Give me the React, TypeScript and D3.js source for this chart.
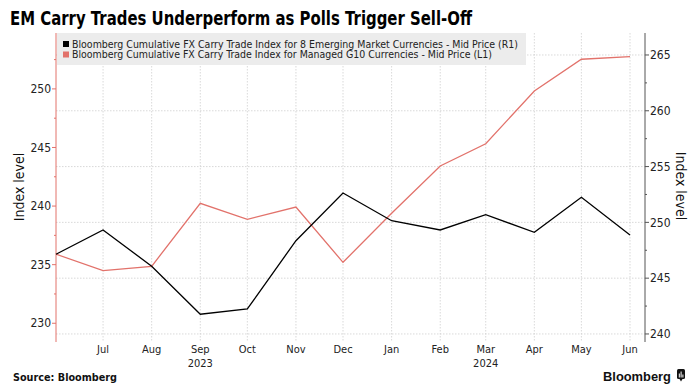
import React from "react";
import * as d3 from "d3";

const months = ["2023-06","2023-07","2023-08","2023-09","2023-10","2023-11","2023-12","2024-01","2024-02","2024-03","2024-04","2024-05","2024-06"];
const emValues = [247.14, 249.32, 246.07, 241.77, 242.24, 248.36, 252.63, 250.15, 249.32, 250.69, 249.11, 252.25, 248.87];
const g10Values = [235.89, 234.49, 234.86, 240.24, 238.87, 239.92, 235.2, 239.39, 243.42, 245.32, 249.82, 252.53, 252.75];
const leftTicks = [230, 235, 240, 245, 250];
const rightTicks = [240, 245, 250, 255, 260, 265];
const monthLabels = ["Jul","Aug","Sep","Oct","Nov","Dec","Jan","Feb","Mar","Apr","May","Jun"];
const yearLabels = [{ month: "2023-09", label: "2023" }, { month: "2024-03", label: "2024" }];
const legendLabels = [
  "Bloomberg Cumulative FX Carry Trade Index for 8 Emerging Market Currencies - Mid Price (R1)",
  "Bloomberg Cumulative FX Carry Trade Index for Managed G10 Currencies - Mid Price (L1)",
];

const W = 693, H = 389;
const TOP = 33, BOTTOM = 342, LEFT = 56, RIGHT = 630, RAXIS = 645;
const RED = "#e2726b";
const FONT = "'DejaVu Sans Condensed', 'DejaVu Sans', sans-serif";

const parse = d3.timeParse("%Y-%m");

export default function App() {
  const dates = months.map((m) => parse(m) as Date);
  const x = d3.scaleTime().domain([dates[0], dates[dates.length - 1]]).range([LEFT, RIGHT]);
  const yL = d3.scaleLinear().domain([228.4, 254.77]).range([BOTTOM, TOP]);
  const yR = d3.scaleLinear().domain([239.28, 266.97]).range([BOTTOM, TOP]);

  const emLine = d3.line<number>().x((_, i) => x(dates[i])).y((d) => yR(d))(emValues) || "";
  const g10Line = d3.line<number>().x((_, i) => x(dates[i])).y((d) => yL(d))(g10Values) || "";

  const leftMinor = d3.range(227.5, 255, 2.5).filter((v) => !leftTicks.includes(v) && yL(v) >= TOP && yL(v) <= BOTTOM);
  const rightMinor = d3.range(237.5, 268, 2.5).filter((v) => !rightTicks.includes(v) && yR(v) >= TOP && yR(v) <= BOTTOM);

  return (
    <svg width={W} height={H} style={{ display: "block", position: "absolute", left: 0, top: 0, background: "#fff" }}>
      <rect x={0} y={0} width={W} height={H} fill="#fff" />
      <text x={10} y={25} fontFamily="'DejaVu Sans', sans-serif" fontWeight="bold" fontSize={20} textLength={462} lengthAdjust="spacingAndGlyphs" fill="#000">
        EM Carry Trades Underperform as Polls Trigger Sell-Off
      </text>

      {/* grid */}
      {dates.slice(1).map((d, i) => (
        <line key={"vg" + i} x1={x(d)} x2={x(d)} y1={TOP} y2={BOTTOM} stroke="#cfcfcf" strokeWidth={0.8} strokeDasharray="1.5,1.5" />
      ))}
      {rightTicks.map((t) => (
        <line key={"hg" + t} x1={LEFT} x2={RAXIS} y1={yR(t)} y2={yR(t)} stroke="#cfcfcf" strokeWidth={0.8} strokeDasharray="1.5,1.5" />
      ))}

      {/* legend */}
      <rect x={57} y={33} width={469} height={32} fill="#ececec" />
      <rect x={63} y={41} width={6} height={6} fill="#000" />
      <rect x={63} y={51.5} width={6} height={6} fill={RED} />
      <text x={72} y={47.5} fontFamily={FONT} fontSize={10.5} fill="#222" textLength={446} lengthAdjust="spacingAndGlyphs">{legendLabels[0]}</text>
      <text x={72} y={58} fontFamily={FONT} fontSize={10.5} fill="#222" textLength={420} lengthAdjust="spacingAndGlyphs">{legendLabels[1]}</text>

      {/* left axis */}
      <line x1={LEFT} x2={LEFT} y1={TOP} y2={BOTTOM} stroke={RED} strokeWidth={1} />
      {leftTicks.map((t) => (
        <g key={"lt" + t}>
          <line x1={LEFT - 4} x2={LEFT} y1={yL(t)} y2={yL(t)} stroke={RED} strokeWidth={1} />
          <text x={LEFT - 5} y={yL(t)} dy="0.35em" textAnchor="end" fontFamily={FONT} fontSize={12} fill="#222">{t}</text>
        </g>
      ))}
      {leftMinor.map((t) => (
        <line key={"lm" + t} x1={LEFT - 2} x2={LEFT} y1={yL(t)} y2={yL(t)} stroke={RED} strokeWidth={1} />
      ))}
      <text transform={`translate(24,187) rotate(-90)`} textAnchor="middle" fontFamily={FONT} fontSize={14} fill="#111">Index level</text>

      {/* right axis */}
      <line x1={RAXIS} x2={RAXIS} y1={TOP} y2={BOTTOM} stroke="#555" strokeWidth={1} />
      {rightTicks.map((t) => (
        <g key={"rt" + t}>
          <line x1={RAXIS} x2={RAXIS + 4} y1={yR(t)} y2={yR(t)} stroke="#555" strokeWidth={1} />
          <text x={RAXIS + 5} y={yR(t)} dy="0.35em" textAnchor="start" fontFamily={FONT} fontSize={12} fill="#222">{t}</text>
        </g>
      ))}
      {rightMinor.map((t) => (
        <line key={"rm" + t} x1={RAXIS} x2={RAXIS + 2} y1={yR(t)} y2={yR(t)} stroke="#555" strokeWidth={1} />
      ))}
      <text transform={`translate(676,186) rotate(90)`} textAnchor="middle" fontFamily={FONT} fontSize={14} fill="#111">Index level</text>

      {/* x axis labels */}
      {dates.slice(1).map((d, i) => (
        <text key={"xl" + i} x={x(d)} y={353} textAnchor="middle" fontFamily={FONT} fontSize={11} fill="#222">{monthLabels[i]}</text>
      ))}
      {yearLabels.map((yl) => (
        <text key={yl.label} x={x(parse(yl.month) as Date)} y={367} textAnchor="middle" fontFamily={FONT} fontSize={11} fill="#222">{yl.label}</text>
      ))}

      {/* series */}
      <path d={g10Line} fill="none" stroke={RED} strokeWidth={1.3} />
      <path d={emLine} fill="none" stroke="#000" strokeWidth={1.3} />

      {/* footer */}
      <text x={13} y={381} fontFamily="'DejaVu Sans', sans-serif" fontWeight="bold" fontSize={10} fill="#111" textLength={104} lengthAdjust="spacingAndGlyphs">Source: Bloomberg</text>
      <text x={603} y={381} fontFamily="'Liberation Sans', sans-serif" fontWeight="bold" fontSize={13} fill="#111" textLength={68} lengthAdjust="spacingAndGlyphs">Bloomberg</text>
      <rect x={677} y={369} width={8} height={10} rx={1.5} fill="#111" />
      <path d="M679.5,379 L681,381.5 L682.5,379 Z" fill="#111" />
      <rect x={678.8} y={373.5} width={1} height={4} fill="#fff" />
      <rect x={680.6} y={371.5} width={1} height={6} fill="#fff" />
      <rect x={682.4} y={374.5} width={1} height={3} fill="#fff" />
    </svg>
  );
}
